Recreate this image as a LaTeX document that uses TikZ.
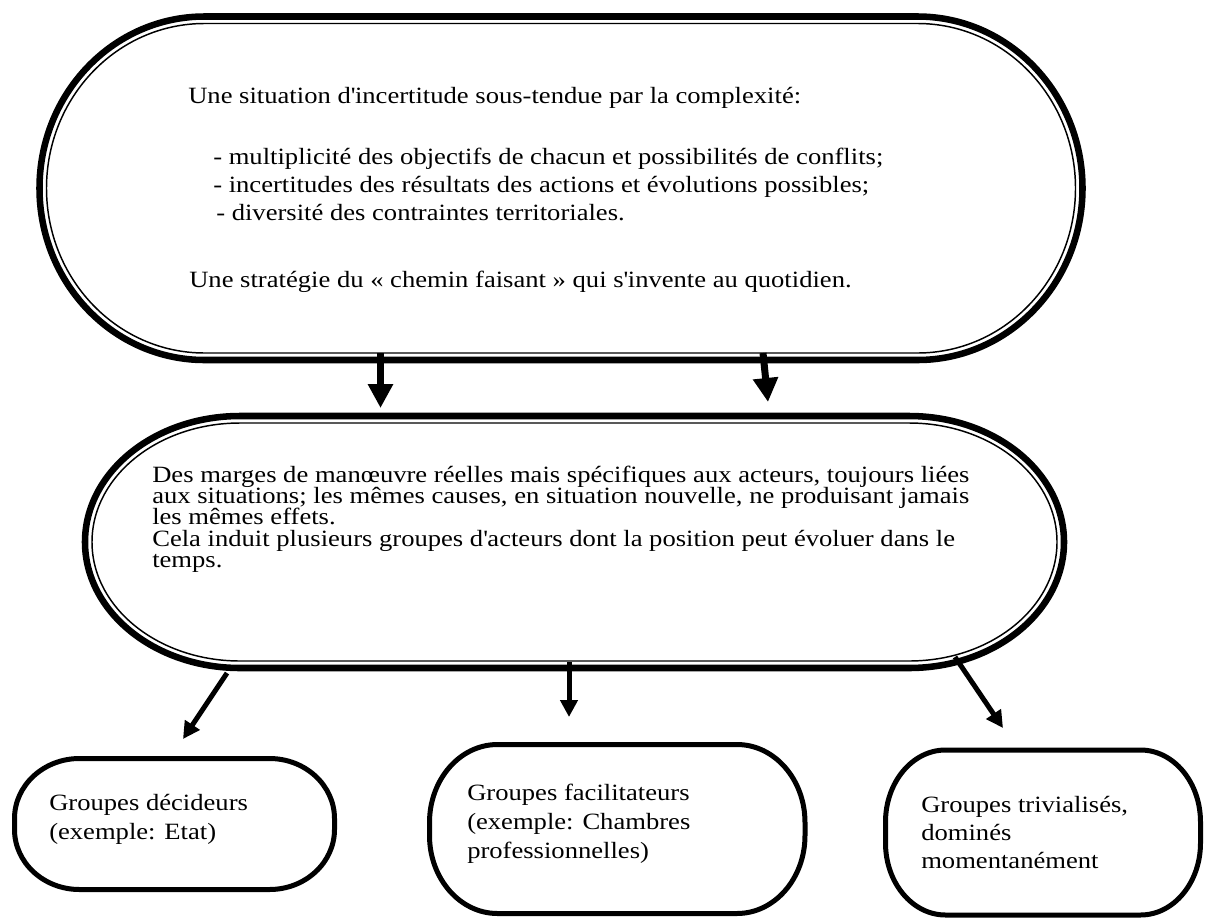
\documentclass[tikz,border=0pt]{standalone}
\usepackage{fontspec}
\setmainfont[FakeStretch=1.14]{Liberation Serif}
\usetikzlibrary{arrows.meta}
% rounded box with elliptical corners: #1 options, #2 x1, #3 y1, #4 x2, #5 y2, #6 rx, #7 ry
\newcommand\myoval[7]{\draw[#1] ({#2+#6},#3) -- ({#4-#6},#3)
  .. controls ({#4-0.4477*#6},#3) and (#4,{#3+0.4477*#7}) .. (#4,{#3+#7}) -- (#4,{#5-#7})
  .. controls (#4,{#5-0.4477*#7}) and ({#4-0.4477*#6},#5) .. ({#4-#6},#5) -- ({#2+#6},#5)
  .. controls ({#2+0.4477*#6},#5) and (#2,{#5-0.4477*#7}) .. (#2,{#5-#7}) -- (#2,{#3+#7})
  .. controls (#2,{#3+0.4477*#7}) and ({#2+0.4477*#6},#3) .. ({#2+#6},#3) -- cycle;}
\newcommand\mlines[1]{\parbox[t]{900pt}{\raggedright\lineskiplimit=-100pt\relax #1}}
\tikzset{
  thickline/.style={line width=4.9pt},
  thinline/.style={line width=1.1pt},
  boxline/.style={line width=3.75pt},
  bigarrow/.style={line width=5.25pt, -{Triangle[width=18pt,length=18pt]}},
  smallarrow/.style={line width=3.75pt, -{Triangle[width=12.75pt,length=12.75pt]}},
  txt/.style={inner sep=0pt, anchor=base west},
  fs/.style={font=\fontsize{17.5pt}{#1}\selectfont},
}
\begin{document}
\begin{tikzpicture}[x=0.75pt,y=-0.75pt]
\fill[white] (0,0) rectangle (1207,918);
\useasboundingbox (0,0) rectangle (1207,918);
% top shape
\myoval{thickline}{39.5}{16.5}{1082.5}{360}{165}{171.75}
\myoval{thinline}{46.5}{23.5}{1075.5}{353}{158}{164.75}
% middle shape
\myoval{thickline}{85}{416}{1064}{668}{155}{126}
\myoval{thinline}{92}{423}{1057}{661}{148}{119}
% bottom boxes
\myoval{boxline}{14.5}{758.5}{334.5}{889.5}{65}{60}
\myoval{boxline}{429.5}{744.5}{805}{913.5}{68}{78}
\myoval{boxline}{885.5}{750}{1200.5}{915}{60}{72}
% texts
\node[txt,fs=21pt] (t1) at (188,103) {Une situation d\textquotesingle incertitude sous-tendue par la complexité:};
\node[txt,fs=21pt] (t2) at (213,164) {\mlines{- multiplicité des objectifs de chacun et possibilités de conflits;\\
- incertitudes des résultats des actions et évolutions possibles;\\
\hspace*{2.25pt}- diversité des contraintes territoriales.}};
\node[txt,fs=21pt] (t3) at (189,287) {Une stratégie du « chemin faisant » qui s\textquotesingle invente au quotidien.};
\node[txt,fs=16.1pt] (m1) at (152,482) {\mlines{Des marges de manœuvre réelles mais spécifiques aux acteurs, toujours liées\\
aux situations; les mêmes causes, en situation nouvelle, ne produisant jamais\\
les mêmes effets.\\
Cela induit plusieurs groupes d\textquotesingle acteurs dont la position peut évoluer dans le\\
temps.}};
\node[txt,fs=22pt] (b1) at (49,810) {\mlines{Groupes décideurs\\(exemple: Etat)}};
\node[txt,fs=21.75pt] (b2) at (467,800) {\mlines{Groupes facilitateurs\\(exemple: Chambres\\professionnelles)}};
\node[txt,fs=21pt] (b3) at (921,812) {\mlines{Groupes trivialisés,\\dominés\\momentanément}};
% arrows
\coordinate (a1s) at (380.5,353); \coordinate (a1e) at (380.5,408);
\coordinate (a2s) at (763,353);   \coordinate (a2e) at (768,402);
\coordinate (a3s) at (227,673);   \coordinate (a3e) at (183,739);
\coordinate (a4s) at (569,662);   \coordinate (a4e) at (569,717);
\coordinate (a5s) at (955,657);   \coordinate (a5e) at (1003,728);
\draw[bigarrow] (a1s) -- (a1e);
\draw[bigarrow] (a2s) -- (a2e);
\draw[smallarrow] (a3s) -- (a3e);
\draw[smallarrow] (a4s) -- (a4e);
\draw[smallarrow] (a5s) -- (a5e);
\end{tikzpicture}
\end{document}
